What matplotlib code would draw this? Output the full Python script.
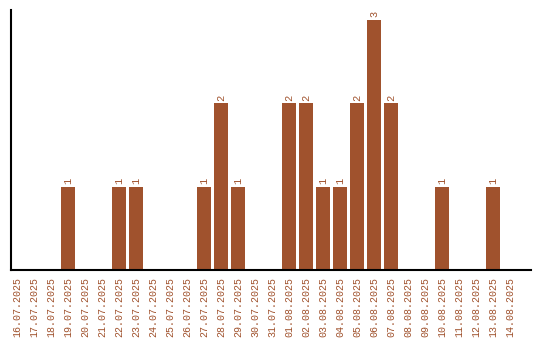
import matplotlib
matplotlib.use('Agg')
from matplotlib import pyplot as plt

dates = ['16.07.2025', '17.07.2025', '18.07.2025', '19.07.2025', '20.07.2025',
         '21.07.2025', '22.07.2025', '23.07.2025', '24.07.2025', '25.07.2025',
         '26.07.2025', '27.07.2025', '28.07.2025', '29.07.2025', '30.07.2025',
         '31.07.2025', '01.08.2025', '02.08.2025', '03.08.2025', '04.08.2025',
         '05.08.2025', '06.08.2025', '07.08.2025', '08.08.2025', '09.08.2025',
         '10.08.2025', '11.08.2025', '12.08.2025', '13.08.2025', '14.08.2025']
counts = [0, 0, 0, 1, 0, 0, 1, 1, 0, 0,
          0, 1, 2, 1, 0, 0, 2, 2, 1, 1,
          2, 3, 2, 0, 0, 1, 0, 0, 1, 0]

color = '#A0522D'
plt.rcParams['font.family'] = ['Liberation Mono', 'DejaVu Sans Mono']

fig = plt.figure(figsize=(5.4, 3.4), dpi=100)
ax = fig.add_axes([0.0204, 0.206, 0.963, 0.765])

x = list(range(len(dates)))
bars = ax.bar(x, counts, width=0.82, color=color)

# value labels only on non-empty days
for xi, c in zip(x, counts):
    if c > 0:
        ax.text(xi, c + 0.03, str(c), rotation=90, ha='center', va='bottom',
                fontsize=7.5, color=color)

ax.set_xticks(x)
ax.set_xticklabels(dates, rotation=90, fontsize=7.2, color=color)
ax.tick_params(axis='x', length=0, pad=5)
ax.set_yticks([])
ax.set_xlim(-0.35, 30.24)
ax.set_ylim(0, 3.12)

ax.spines['top'].set_visible(False)
ax.spines['right'].set_visible(False)
ax.spines['left'].set_linewidth(1.5)
ax.spines['bottom'].set_linewidth(1.5)

plt.savefig('out.png')
